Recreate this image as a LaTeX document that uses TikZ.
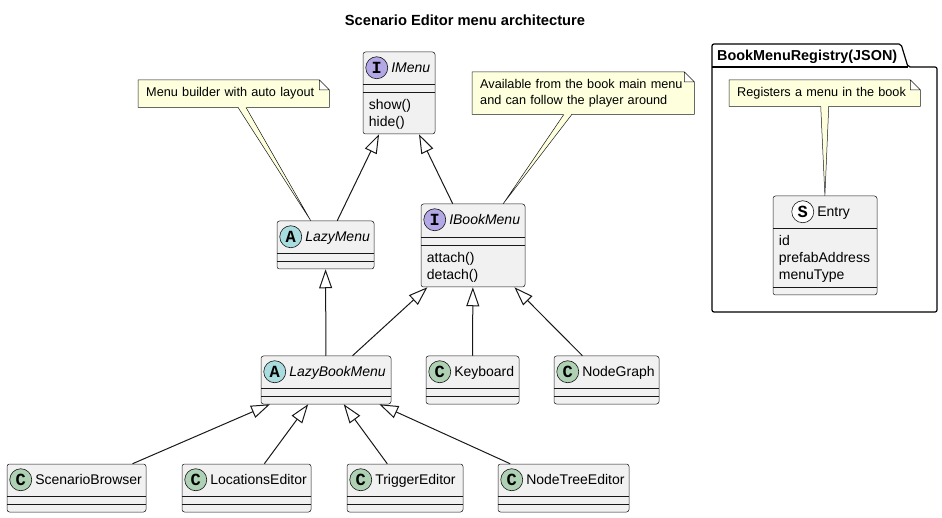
\documentclass[tikz,border=0pt]{standalone}
\usepackage{fontspec}
\setmainfont{Liberation Sans}
\newfontfamily\iconfont{Liberation Mono}
\usetikzlibrary{arrows.meta,positioning,fit,calc,backgrounds}
\definecolor{boxbg}{HTML}{F1F1F1}
\definecolor{edge}{HTML}{181818}
\definecolor{notebg}{HTML}{FEFFDD}
\definecolor{ifacecol}{HTML}{B4A7E5}
\definecolor{abstrcol}{HTML}{A9DCDF}
\definecolor{classcol}{HTML}{ADD1B2}
\tikzset{
	classbox/.style={draw=edge,fill=boxbg,line width=0.5pt,rounded corners=2.5pt,inner sep=0pt},
	divider/.style={draw=edge,line width=0.5pt},
	icon/.style={circle,draw=edge,line width=0.6pt,minimum size=22pt,inner sep=0pt,font=\iconfont\bfseries\fontsize{17}{17}\selectfont},
	iface/.style={icon,fill=ifacecol},
	abstr/.style={icon,fill=abstrcol},
	concrete/.style={icon,fill=classcol},
	strct/.style={icon,fill=white},
	cname/.style={anchor=base west,inner sep=0pt,font=\fontsize{14}{17}\selectfont},
	member/.style={anchor=base west,inner sep=0pt,font=\fontsize{14}{17}\selectfont},
	note/.style={align=left,inner xsep=8pt,inner ysep=0pt,anchor=north west,font=\fontsize{12.7}{16}\selectfont},
	notepaper/.style={draw=edge,fill=notebg,line width=0.5pt},
	ext/.style={draw=edge,line width=1pt,-{Triangle[open,length=19pt,width=13pt]}},
	pkg/.style={draw=black,line width=1.2pt,rounded corners=2pt}
}
% class box: [icon offset] name, icon, letter, title, top left, bottom right, rules
\newcommand{\umlclass}[9][14]{%
	\node[classbox,fit={#6 #7}] (#2) {};
	\node[#3] (#2-icon) at ([xshift=#1pt,yshift=-16pt]#2.north west) {#4};
	\node[cname] (#2-name) at ([xshift=3pt,yshift=-5pt]#2-icon.east) {#5};
	\draw[divider] (#2.west |- 0,#8) -- (#2.east |- 0,#8);
	\draw[divider] (#2.west |- 0,#9) -- (#2.east |- 0,#9);
}
\newcommand{\umlmembers}[3]{%
	\foreach \m [count=\i] in {#3}
		\node[member] at ($(#1.west |- 0,#2)+(6,{1+17*\i})$) {\m};
}

\begin{document}
\begin{tikzpicture}[x=1pt,y=-1pt]
	\useasboundingbox (0,0) rectangle (942,518);
	\node[font=\bfseries\fontsize{14.7}{17}\selectfont] (title) at (465,20) {Scenario Editor menu architecture};

	\umlclass{imenu}{iface}{I}{\itshape IMenu}{(363,52)}{(435,134)}{84}{92}
	\umlmembers{imenu}{92}{show(),hide()}
	\umlclass{lazymenu}{abstr}{A}{\itshape LazyMenu}{(277,221)}{(374,269)}{253}{261}
	\umlclass{ibookmenu}{iface}{I}{\itshape IBookMenu}{(421,204)}{(525,287)}{237}{245}
	\umlmembers{ibookmenu}{245}{attach(),detach()}
	\umlclass{lazybookmenu}{abstr}{A}{\itshape LazyBookMenu}{(261,356)}{(391,404)}{388}{396}
	\umlclass{keyboard}{concrete}{C}{Keyboard}{(426,356)}{(519,404)}{388}{396}
	\umlclass{nodegraph}{concrete}{C}{NodeGraph}{(554,356)}{(659,404)}{388}{396}
	\umlclass{scenariobrowser}{concrete}{C}{ScenarioBrowser}{(7,464)}{(146,512)}{496}{504}
	\umlclass{locationseditor}{concrete}{C}{LocationsEditor}{(182,464)}{(311,512)}{496}{504}
	\umlclass{triggereditor}{concrete}{C}{TriggerEditor}{(347,464)}{(463,512)}{496}{504}
	\umlclass{nodetreeeditor}{concrete}{C}{NodeTreeEditor}{(498,464)}{(629,512)}{496}{504}
	\umlclass[30]{entry}{strct}{S}{Entry}{(773,196)}{(877,295)}{228}{287}
	\umlmembers{entry}{228}{id,prefabAddress,menuType}

	\node[note,text width=175pt,minimum height=27pt] (buildernote) at (138,80) {Menu builder with auto layout};
	\node[note,text width=206pt,minimum height=42pt] (booknote) at (472,72) {Available from the book main menu\\and can follow the player around};
	\node[note,text width=175pt,minimum height=26pt] (registernote) at (729,80) {Registers a menu in the book};
	\node[cname,font=\bfseries\fontsize{14.4}{17}\selectfont] (registry) at (717,61) {BookMenuRegistry(JSON)};

	\begin{scope}[on background layer]
		\draw[pkg] (712,312) -- (712,44) -- (901,44) -- (908,67) -- (937,67) -- (937,312) -- cycle;
		\draw[pkg] (712,67) -- (908,67);
		\foreach \n in {buildernote,booknote,registernote}
			\filldraw[notepaper] (\n.north west) -- ([xshift=-10pt]\n.north east) -- ([yshift=-10pt]\n.north east)
				-- (\n.south east) -- (\n.south west) -- cycle
				([xshift=-10pt]\n.north east) |- ([yshift=-10pt]\n.north east);
	\end{scope}

	% note tails
	\foreach \n/\c in {buildernote/lazymenu,booknote/ibookmenu,registernote/entry} {
		\path (\n) -- (\c) coordinate[pos=0] (tail-a) coordinate[pos=1] (tail-b);
		\fill[notebg] ([xshift=-4pt,yshift=0.6pt]tail-a) -- (tail-b) -- ([xshift=4pt,yshift=0.6pt]tail-a) -- cycle;
		\draw[edge,line width=0.5pt] ([xshift=-4pt]tail-a) -- (tail-b) -- ([xshift=4pt]tail-a);
	}

	\draw[ext] (lazymenu) -- (imenu);
	\draw[ext] (ibookmenu) -- (imenu);
	\draw[ext] (lazybookmenu) -- (lazymenu);
	\draw[ext] (lazybookmenu) -- (ibookmenu);
	\draw[ext] (keyboard) -- (ibookmenu);
	\draw[ext] (nodegraph) -- (ibookmenu);
	\draw[ext] (scenariobrowser) -- (lazybookmenu);
	\draw[ext] (locationseditor) -- (lazybookmenu);
	\draw[ext] (triggereditor) -- (lazybookmenu);
	\draw[ext] (nodetreeeditor) -- (lazybookmenu);
\end{tikzpicture}
\end{document}
